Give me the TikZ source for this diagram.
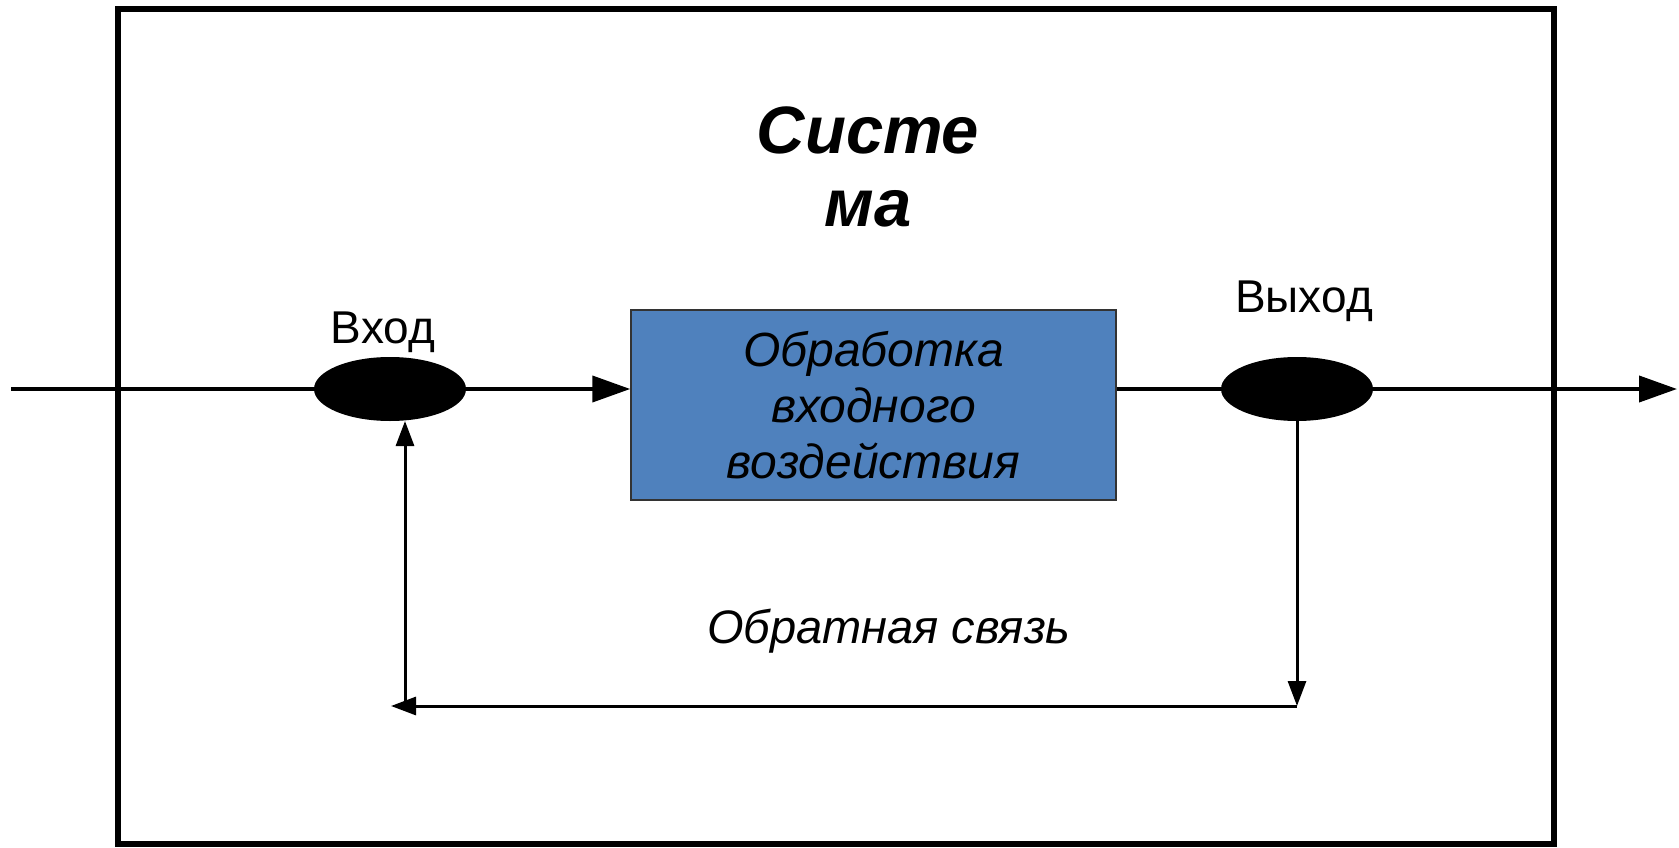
\documentclass[tikz,border=0pt]{standalone}
\usepackage{fontspec}
\setmainfont{Liberation Sans}
\usepackage{tikz}
\usetikzlibrary{arrows.meta,shapes}

\definecolor{boxblue}{HTML}{4F81BD}

\tikzset{
  dot/.style = {ellipse, fill = black, minimum width = 152pt, minimum height = 64pt, inner sep = 0pt},
  bigtip/.style = {-{Triangle[length=38pt,width=26pt]}, line width = 4pt},
  smalltip/.style = {-{Triangle[length=25pt,width=18pt]}, line width = 3pt},
  lbl/.style = {font = \fontsize{46}{52}\selectfont, anchor = base}
}

\begin{document}
\begin{tikzpicture}[x = 1pt, y = -1pt]
\useasboundingbox (0,0) rectangle (1679,848);

\draw[line width = 6pt] (118,9) rectangle (1554,844);

\node[align = center, font = \fontsize{67}{73}\selectfont\bfseries\itshape] (ntitle) at (868,167) {Систе\\ма};

\node[dot] (nin) at (390,389) {};
\node[dot] (nout) at (1297,389) {};
\node[draw = black!80, line width = 1.5pt, fill = boxblue, minimum width = 485pt, minimum height = 190pt,
  align = center, font = \fontsize{48}{56}\selectfont\itshape] (nbox) at (873.5,405)
  {Обработка\\входного\\воздействия};

\node[lbl] (nlin) at (383,343) {Вход};
\node[lbl] (nlout) at (1304,312) {Выход};
\node[lbl, font = \fontsize{47}{52}\selectfont\itshape] (nlfb) at (889,643) {Обратная связь};

\coordinate (nstart) at (11,389);
\coordinate (nend) at (1677,389);
\coordinate (nfbr) at (1297,706);
\coordinate (nfbl) at (391,706);
\coordinate (nfbv) at (405,706);
\coordinate (nfbt) at (405,421);

\draw[line width = 4pt] (nstart) -- (nin.west);
\draw[bigtip] (nin.east) -- (nin.east -| nbox.west);
\draw[line width = 4pt] (nbox.east |- nout) -- (nout.west);
\draw[bigtip] (nout.east) -- (nend);

\draw[smalltip] (nout.south) -- (nfbr);
\draw[smalltip] (nfbr) -- (nfbl);
\draw[smalltip] (nfbv) -- (nfbt);

\end{tikzpicture}
\end{document}
